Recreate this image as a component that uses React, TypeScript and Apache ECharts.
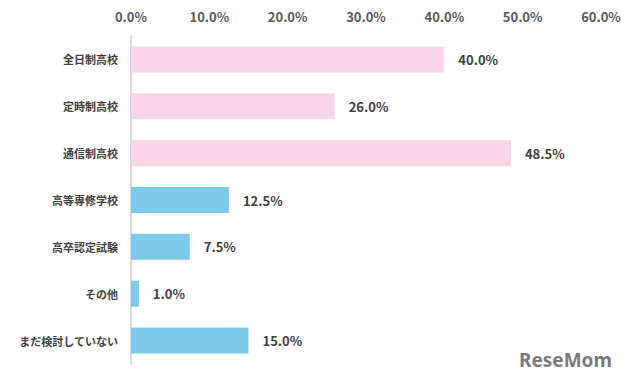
import React, { useEffect, useRef } from "react";
import * as echarts from "echarts";

const categories = ["全日制高校", "定時制高校", "通信制高校", "高等専修学校", "高卒認定試験", "その他", "まだ検討していない"];
const values = [40.0, 26.0, 48.5, 12.5, 7.5, 1.0, 15.0];
const barColors = ["#f7d7e6", "#f7d7e6", "#f7d7e6", "#7ccbeb", "#7ccbeb", "#7ccbeb", "#7ccbeb"];

export default function App() {
  const ref = useRef<HTMLDivElement>(null);
  useEffect(() => {
    const chart = echarts.init(ref.current!, null, { renderer: "svg" });
    chart.setOption({
      animation: false,
      grid: { left: 131, right: 39, top: 36, bottom: 19, containLabel: false },
      xAxis: {
        type: "value",
        position: "top",
        min: 0,
        max: 60,
        interval: 10,
        axisLine: { show: false },
        axisTick: { show: false },
        splitLine: { show: false },
        axisLabel: {
          formatter: (v: number) => v.toFixed(1) + "%",
          color: "#595959",
          fontSize: 13,
          fontWeight: "bold",
          fontFamily: "Noto Sans CJK JP",
          margin: 13,
        },
      },
      yAxis: {
        type: "category",
        inverse: true,
        data: categories,
        axisLine: { show: true, lineStyle: { color: "#d9d9d9", width: 2 } },
        axisTick: { show: false },
        axisLabel: {
          color: "#404040",
          fontSize: 11,
          fontWeight: "bold",
          fontFamily: "Noto Sans CJK JP",
          margin: 13,
        },
      },
      series: [
        {
          type: "bar",
          barWidth: 26,
          data: values.map((v, i) => ({ value: v, itemStyle: { color: barColors[i] } })),
          label: {
            show: true,
            position: "right",
            distance: 14,
            formatter: (p: any) => p.value.toFixed(1) + "%",
            color: "#404040",
            fontSize: 13,
            fontWeight: "bold",
            fontFamily: "Noto Sans CJK JP",
          },
        },
      ],
      graphic: [
        {
          type: "text",
          right: 28,
          bottom: 14,
          style: {
            text: "ReseMom",
            fill: "#7a7a7a",
            fontSize: 19,
            fontWeight: "bold",
            fontFamily: "Noto Sans",
          },
        },
      ],
    });
    return () => chart.dispose();
  }, []);
  return <div ref={ref} style={{ width: 640, height: 383, position: "absolute", left: 0, top: 0 }} />;
}
